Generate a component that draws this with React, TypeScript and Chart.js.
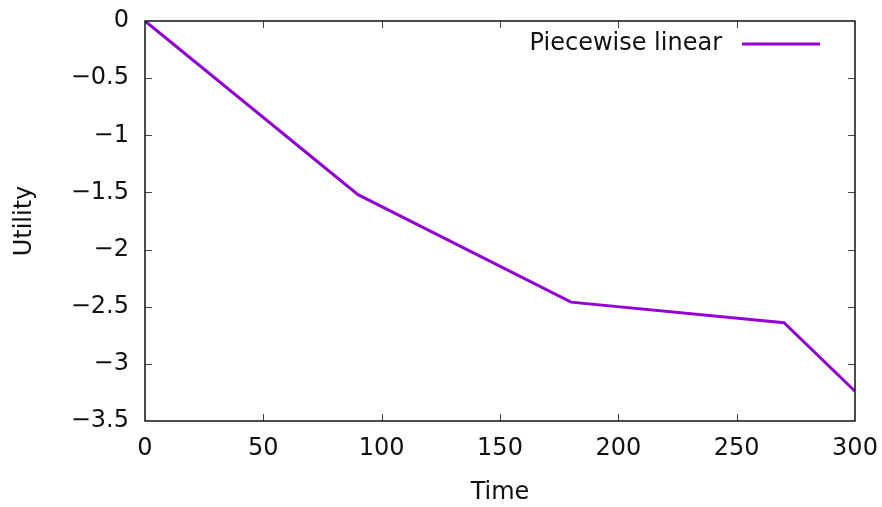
import React, { useEffect, useRef } from "react";
import { Chart, registerables } from "chart.js";

Chart.register(...registerables);

const timeValues: number[] = [0, 90, 180, 270, 300];
const utilityValues: number[] = [0, -1.52, -2.46, -2.64, -3.24];
const seriesLabel = "Piecewise linear";
const xTicks: number[] = [0, 50, 100, 150, 200, 250, 300];
const yTicks: number[] = [0, -0.5, -1, -1.5, -2, -2.5, -3, -3.5];

const FONT = "'DejaVu Sans'";
const LINE_COLOR = "#9400D3";

const framePlugin = {
  id: "gnuFrame",
  afterDatasetsDraw(chart: any) {
    const { ctx, chartArea } = chart;
    const { left, right, top, bottom } = chartArea;
    const xs = chart.scales.x;
    const ys = chart.scales.y;
    ctx.save();
    ctx.strokeStyle = "#444";
    ctx.lineWidth = 1;
    const tl = 7;
    xTicks.forEach((v) => {
      const px = Math.round(xs.getPixelForValue(v)) + 0.5;
      if (v === xTicks[0] || v === xTicks[xTicks.length - 1]) return;
      ctx.beginPath();
      ctx.moveTo(px, bottom);
      ctx.lineTo(px, bottom - tl);
      ctx.moveTo(px, top);
      ctx.lineTo(px, top + tl);
      ctx.stroke();
    });
    yTicks.forEach((v) => {
      const py = Math.round(ys.getPixelForValue(v)) + 0.5;
      if (v === yTicks[0] || v === yTicks[yTicks.length - 1]) return;
      ctx.beginPath();
      ctx.moveTo(left, py);
      ctx.lineTo(left + tl, py);
      ctx.moveTo(right, py);
      ctx.lineTo(right - tl, py);
      ctx.stroke();
    });
    ctx.strokeStyle = "#111";
    ctx.lineWidth = 1.5;
    ctx.strokeRect(left, top, right - left, bottom - top);
    const ly = top + 23;
    ctx.font = `24px ${FONT}`;
    ctx.fillStyle = "#111";
    ctx.textAlign = "right";
    ctx.textBaseline = "middle";
    ctx.fillText(seriesLabel, right - 133, ly);
    ctx.strokeStyle = LINE_COLOR;
    ctx.lineWidth = 3;
    ctx.beginPath();
    ctx.moveTo(right - 113, ly);
    ctx.lineTo(right - 35, ly);
    ctx.stroke();
    ctx.restore();
  },
};

export default function App() {
  const ref = useRef<HTMLCanvasElement | null>(null);
  useEffect(() => {
    if (!ref.current) return;
    const fmt = (v: number) => String(v).replace("-", "\u2212");
    const chart = new Chart(ref.current, {
      type: "line",
      data: {
        datasets: [
          {
            label: seriesLabel,
            data: timeValues.map((t, i) => ({ x: t, y: utilityValues[i] })),
            borderColor: LINE_COLOR,
            borderWidth: 3,
            pointRadius: 0,
            tension: 0,
            fill: false,
          },
        ],
      },
      options: {
        animation: false,
        responsive: false,
        maintainAspectRatio: false,
        layout: { padding: { left: 0, right: 27, top: 21, bottom: 0 } },
        plugins: { legend: { display: false }, tooltip: { enabled: false } },
        scales: {
          x: {
            type: "linear",
            min: 0,
            max: 300,
            afterBuildTicks: (s: any) => {
              s.ticks = xTicks.map((v) => ({ value: v }));
            },
            afterFit: (s: any) => {
              s.height = 86;
              s.paddingLeft = 0;
              s.paddingRight = 0;
            },
            grid: { display: false, drawTicks: false },
            border: { display: false },
            ticks: {
              padding: 13,
              color: "#111",
              font: { family: FONT, size: 24 },
              callback: (v: any) => fmt(Number(v)),
              maxRotation: 0,
              autoSkip: false,
            },
            title: {
              display: true,
              text: "Time",
              color: "#111",
              font: { family: FONT, size: 24 },
              padding: { top: 6, bottom: 0 },
            },
          },
          y: {
            type: "linear",
            min: -3.5,
            max: 0,
            afterBuildTicks: (s: any) => {
              s.ticks = yTicks.map((v) => ({ value: v }));
            },
            afterFit: (s: any) => {
              s.width = 145;
              s.paddingTop = 0;
              s.paddingBottom = 0;
            },
            grid: { display: false, drawTicks: false },
            border: { display: false },
            ticks: {
              padding: 16,
              color: "#111",
              font: { family: FONT, size: 24 },
              callback: (v: any) => fmt(Number(v)),
              autoSkip: false,
            },
            title: {
              display: true,
              text: "Utility",
              color: "#111",
              font: { family: FONT, size: 24 },
              padding: { top: 10, bottom: 0 },
            },
          },
        },
      },
      plugins: [framePlugin],
    });
    return () => chart.destroy();
  }, []);
  return (
    <div style={{ position: "absolute", left: 0, top: 0, width: 882, height: 507, background: "#fff" }}>
      <canvas ref={ref} width={882} height={507} style={{ width: 882, height: 507 }} />
    </div>
  );
}
